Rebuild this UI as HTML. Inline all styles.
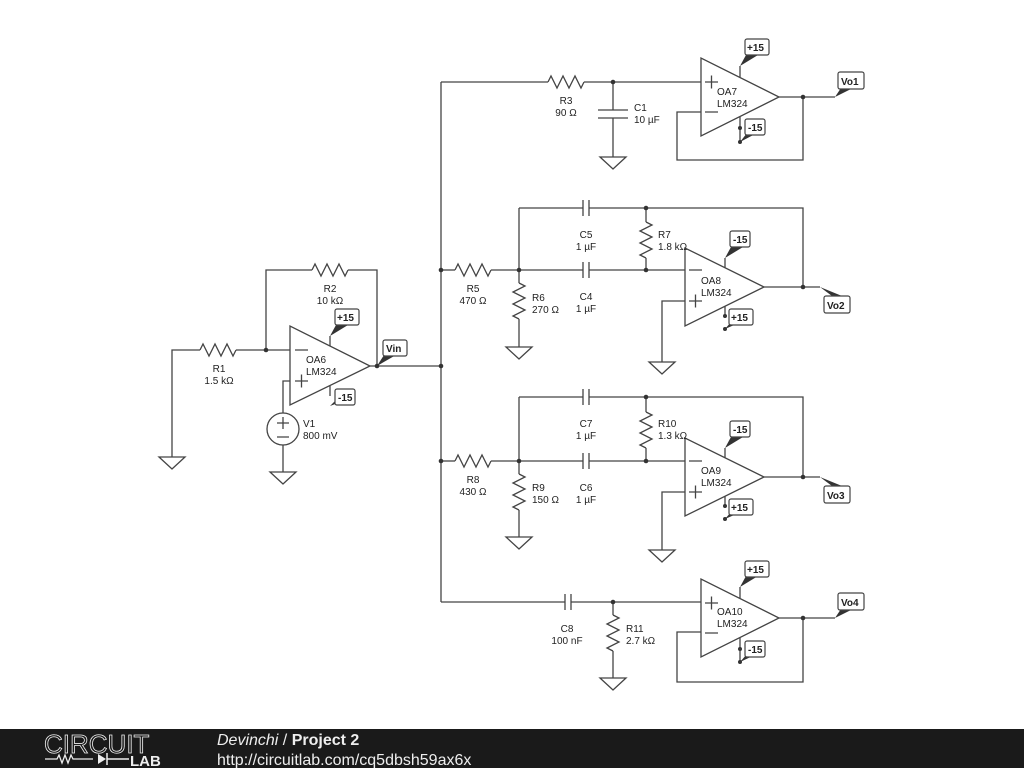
<!DOCTYPE html>
<html><head><meta charset="utf-8"><style>
html,body{margin:0;padding:0;background:#fff;}
svg{display:block;}
text{font-family:"Liberation Sans",sans-serif;font-size:10px;fill:#222;}
</style></head><body>
<svg width="1024" height="768" viewBox="0 0 1024 768" xmlns="http://www.w3.org/2000/svg">
<defs>
<path id="rh" d="M0 0 l3 -6 l6 12 l6 -12 l6 12 l6 -12 l6 12 l3 -6" fill="none" stroke="#444" stroke-width="1.3"/>
<path id="gnd" d="M-13 0 h26 l-13 12 z" fill="#fff" stroke="#444" stroke-width="1.3"/>
</defs>
<g fill="none" stroke="#444" stroke-width="1.3">
<path d="M172 457 V350 H200"/><use href="#rh" x="200" y="350"/><path d="M236 350 H290"/>
<path d="M266 350 V270 H312"/><use href="#rh" x="312" y="270"/><path d="M348 270 H377 V366"/>
<path d="M370 366 H441"/>
<path d="M290 381 H283 V413"/><circle cx="283" cy="429" r="16"/><path d="M283 445 V472"/>
<polygon points="290,326 290,405 370,366" fill="#fff"/>
<path d="M330 346 V336"/><path d="M330 386 V396"/>
<path d="M441 82 V602"/>
<path d="M441 82 H548"/><use href="#rh" x="548" y="82"/><path d="M584 82 H701"/>
<path d="M613 82 V110 M598 110 H628 M598 118 H628 M613 118 V157"/>
<path d="M701 112 H677 V160 H803 V97"/><path d="M779 97 H835"/>
<polygon points="701,58 701,136 779,97" fill="#fff"/>
<path d="M740 77 V66 M740 117 V142"/>
<path d="M441 270 H455"/><use href="#rh" x="455" y="270"/><path d="M491 270 H583 M589 270 H685"/>
<path d="M583 262 V278 M589 262 V278"/>
<path d="M519 208 H583 M589 208 H803 V287 M583 200 V216 M589 200 V216"/>
<path d="M519 208 V283"/><use href="#rh" x="519" y="283" transform="rotate(90 519 283)"/><path d="M519 319 V347"/>
<path d="M646 208 V222"/><use href="#rh" x="646" y="222" transform="rotate(90 646 222)"/><path d="M646 258 V270"/>
<path d="M685 301 H662 V362"/><path d="M764 287 H820"/>
<polygon points="685,248 685,326 764,287" fill="#fff"/>
<path d="M725 268 V258 M725 306 V318"/>
<path d="M441 461 H455"/><use href="#rh" x="455" y="461"/><path d="M491 461 H583 M589 461 H685"/>
<path d="M583 453 V469 M589 453 V469"/>
<path d="M519 397 H583 M589 397 H803 V477 M583 389 V405 M589 389 V405"/>
<path d="M519 397 V474"/><use href="#rh" x="519" y="474" transform="rotate(90 519 474)"/><path d="M519 510 V537"/>
<path d="M646 397 V412"/><use href="#rh" x="646" y="412" transform="rotate(90 646 412)"/><path d="M646 448 V461"/>
<path d="M685 492 H662 V550"/><path d="M764 477 H820"/>
<polygon points="685,438 685,516 764,477" fill="#fff"/>
<path d="M725 458 V448 M725 496 V508"/>
<path d="M441 602 H565 M571 602 H701 M565 594 V610 M571 594 V610"/>
<path d="M613 602 V615"/><use href="#rh" x="613" y="615" transform="rotate(90 613 615)"/><path d="M613 651 V678"/>
<path d="M701 632 H677 V682 H803 V618"/><path d="M779 618 H835"/>
<polygon points="701,579 701,657 779,618" fill="#fff"/>
<path d="M740 598 V587 M740 638 V662"/>
</g>
<use href="#gnd" x="172" y="457"/><use href="#gnd" x="283" y="472"/>
<use href="#gnd" x="613" y="157"/><use href="#gnd" x="519" y="347"/><use href="#gnd" x="662" y="362"/>
<use href="#gnd" x="519" y="537"/><use href="#gnd" x="662" y="550"/><use href="#gnd" x="613" y="678"/>
<g fill="#333">
<circle cx="266" cy="350" r="2.3"/><circle cx="377" cy="366" r="2.3"/><circle cx="441" cy="366" r="2.3"/>
<circle cx="441" cy="270" r="2.3"/><circle cx="441" cy="461" r="2.3"/>
<circle cx="613" cy="82" r="2.3"/><circle cx="803" cy="97" r="2.3"/>
<circle cx="519" cy="270" r="2.3"/><circle cx="646" cy="208" r="2.3"/><circle cx="646" cy="270" r="2.3"/><circle cx="803" cy="287" r="2.3"/>
<circle cx="519" cy="461" r="2.3"/><circle cx="646" cy="397" r="2.3"/><circle cx="646" cy="461" r="2.3"/><circle cx="803" cy="477" r="2.3"/>
<circle cx="613" cy="602" r="2.3"/><circle cx="803" cy="618" r="2.3"/>
<circle cx="740" cy="128" r="2"/><circle cx="740" cy="142" r="2"/><circle cx="725" cy="316" r="2"/><circle cx="725" cy="329" r="2"/>
<circle cx="725" cy="506" r="2"/><circle cx="725" cy="519" r="2"/><circle cx="740" cy="649" r="2"/><circle cx="740" cy="662" r="2"/>
</g>
<g fill="#333">
<polygon points="330,336 336,325 348,325"/><polygon points="330,406 338,398 348,398 338,403"/>
<polygon points="377,366 384,355 396,355"/>
<polygon points="740,66 746,55 758,55"/><polygon points="740,142 747,133 757,133"/><polygon points="835,97 841,88 853,88"/>
<polygon points="725,258 731,247 743,247"/><polygon points="725,329 731,322 741,322"/><polygon points="820,287 832,296 842,296"/>
<polygon points="725,448 731,437 743,437"/><polygon points="725,519 731,512 741,512"/><polygon points="820,477 832,486 842,486"/>
<polygon points="740,587 746,576 758,576"/><polygon points="740,662 747,654 757,654"/><polygon points="835,618 841,609 853,609"/>
</g>
<g fill="#fff" stroke="#444" stroke-width="1.2">
<rect x="335" y="309" width="24" height="16" rx="2"/><rect x="335" y="389" width="20" height="16" rx="2"/>
<rect x="383" y="340" width="24" height="16" rx="2"/>
<rect x="745" y="39" width="24" height="16" rx="2"/><rect x="745" y="119" width="20" height="16" rx="2"/><rect x="838" y="72" width="26" height="17" rx="2"/>
<rect x="730" y="231" width="20" height="16" rx="2"/><rect x="729" y="309" width="24" height="16" rx="2"/><rect x="824" y="296" width="26" height="17" rx="2"/>
<rect x="730" y="421" width="20" height="16" rx="2"/><rect x="729" y="499" width="24" height="16" rx="2"/><rect x="824" y="486" width="26" height="17" rx="2"/>
<rect x="745" y="561" width="24" height="16" rx="2"/><rect x="745" y="641" width="20" height="16" rx="2"/><rect x="838" y="593" width="26" height="17" rx="2"/>
</g>
<g font-weight="bold">
<text x="337" y="321">+15</text><text x="338" y="401">-15</text><text x="386" y="352">Vin</text>
<text x="747" y="51">+15</text><text x="748" y="131">-15</text><text x="841" y="85">Vo1</text>
<text x="733" y="243">-15</text><text x="731" y="321">+15</text><text x="827" y="309">Vo2</text>
<text x="733" y="433">-15</text><text x="731" y="511">+15</text><text x="827" y="499">Vo3</text>
<text x="747" y="573">+15</text><text x="748" y="653">-15</text><text x="841" y="606">Vo4</text>
</g>
<g stroke="#444" stroke-width="1.3">
<path d="M295 350 h13 M295 381 h13 M301.5 374.5 v13"/>
<path d="M705 82 h13 M711.5 75.5 v13 M705 112 h13"/>
<path d="M689 270 h13 M689 301 h13 M695.5 294.5 v13"/>
<path d="M689 461 h13 M689 492 h13 M695.5 485.5 v13"/>
<path d="M705 603 h13 M711.5 596.5 v13 M705 633 h13"/>
<path d="M277 423 h12 M283 417 v12 M277 437 h12"/>
</g>
<g text-anchor="middle">
<text x="219" y="372">R1</text><text x="219" y="384">1.5 kΩ</text>
<text x="330" y="292">R2</text><text x="330" y="304">10 kΩ</text>
<text x="566" y="104">R3</text><text x="566" y="116">90 Ω</text>
<text x="473" y="292">R5</text><text x="473" y="304">470 Ω</text>
<text x="586" y="238">C5</text><text x="586" y="250">1 µF</text>
<text x="586" y="300">C4</text><text x="586" y="312">1 µF</text>
<text x="473" y="483">R8</text><text x="473" y="495">430 Ω</text>
<text x="586" y="427">C7</text><text x="586" y="439">1 µF</text>
<text x="586" y="491">C6</text><text x="586" y="503">1 µF</text>
<text x="567" y="632">C8</text><text x="567" y="644">100 nF</text>
</g>
<text x="303" y="427">V1</text><text x="303" y="439">800 mV</text>
<text x="306" y="363">OA6</text><text x="306" y="375">LM324</text>
<text x="634" y="111">C1</text><text x="634" y="123">10 µF</text>
<text x="717" y="95">OA7</text><text x="717" y="107">LM324</text>
<text x="532" y="301">R6</text><text x="532" y="313">270 Ω</text>
<text x="658" y="238">R7</text><text x="658" y="250">1.8 kΩ</text>
<text x="701" y="284">OA8</text><text x="701" y="296">LM324</text>
<text x="532" y="491">R9</text><text x="532" y="503">150 Ω</text>
<text x="658" y="427">R10</text><text x="658" y="439">1.3 kΩ</text>
<text x="701" y="474">OA9</text><text x="701" y="486">LM324</text>
<text x="626" y="632">R11</text><text x="626" y="644">2.7 kΩ</text>
<text x="717" y="615">OA10</text><text x="717" y="627">LM324</text>
<rect x="0" y="729" width="1024" height="39" fill="#1a1a1a"/>
<text x="44" y="753" style="font-size:26px;fill:none;stroke:#eee;stroke-width:0.8">CIRCUIT</text>
<path d="M45 759 h12 l2 -4 l3 8 l3 -8 l3 8 l3 -8 l2 4 h20" stroke="#eee" fill="none" stroke-width="1.3"/>
<polygon points="98,754 98,764 106,759" fill="#eee"/><path d="M107 753 v12 M107 759 h22" stroke="#eee" stroke-width="1.5"/>
<text x="130" y="766" style="font-size:15px;font-weight:bold;fill:#eee">LAB</text>
<text x="217" y="745" style="font-size:16px;fill:#eee"><tspan font-style="italic">Devinchi</tspan> / <tspan font-weight="bold">Project 2</tspan></text>
<text x="217" y="765" style="font-size:16px;fill:#eee">http://circuitlab.com/cq5dbsh59ax6x</text>
</svg>
</body></html>
